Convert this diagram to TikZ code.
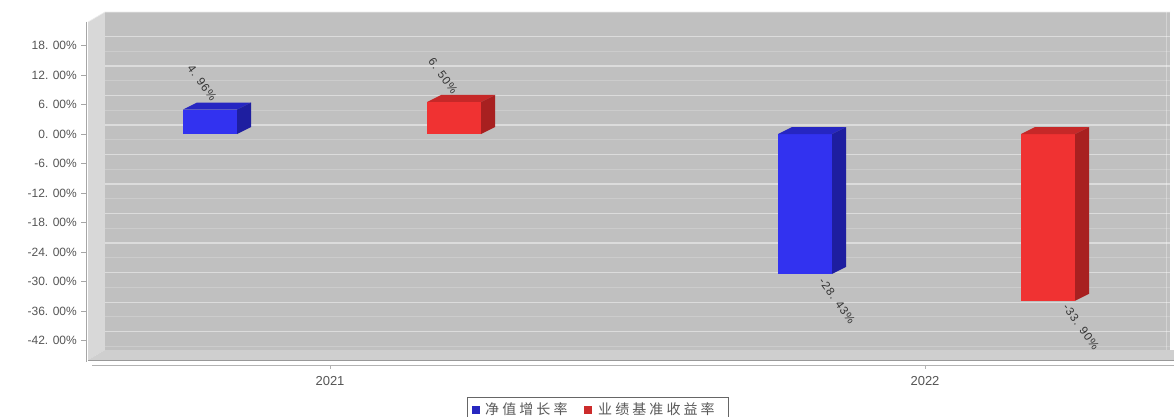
\documentclass[tikz,border=0pt]{standalone}
\usepackage{fontspec}
\setmainfont{Liberation Sans}
\newfontfamily\cjk[LetterSpace=22]{Noto Sans CJK SC}
\newfontfamily\vfont[LetterSpace=8]{Liberation Sans}
\definecolor{wallc}{HTML}{C0C0C0}
\definecolor{wallside}{HTML}{D8D8D8}
\definecolor{floorc}{HTML}{CFCFCF}
\definecolor{axtext}{HTML}{555555}
\definecolor{bfront}{HTML}{3232F0}
\definecolor{btop}{HTML}{2626C2}
\definecolor{bside}{HTML}{1E1EA0}
\definecolor{rfront}{HTML}{F03232}
\definecolor{rtop}{HTML}{C62828}
\definecolor{rside}{HTML}{A82020}
\tikzset{
  ylab/.style={anchor=east,text=axtext,font=\fontsize{12}{14}\selectfont,inner sep=0pt},
  xlab/.style={anchor=center,text=axtext,font=\fontsize{13}{15}\selectfont,inner sep=0pt},
  vlab/.style={text=black!80,font=\vfont\fontsize{11.5}{13}\selectfont,inner sep=0pt,rotate=-54},
  legtext/.style={anchor=west,text=black!65,font=\cjk\fontsize{14}{16}\selectfont,inner sep=0pt},
}
\begin{document}
\begin{tikzpicture}[x=1pt,y=-1pt]
\useasboundingbox (0,0) rectangle (1174,417);
\fill[white] (0,0) rectangle (1174,417);
% walls
\fill[wallside] (88,22) -- (105,12) -- (105,350) -- (88,360) -- cycle;
\fill[wallc] (105,12) rectangle (1170,350);
\draw[white!85!gray,line width=0.6pt] (88,22) -- (105,12) -- (1170,12);
% grid lines on back wall
\foreach \v in {18,12,...,-42} {
  \pgfmathsetmacro\yy{134-\v*4.92-9}
  \draw[white,opacity=0.45,line width=1.2pt] (105,\yy) -- (1170,\yy);
  \pgfmathsetmacro\yz{\yy+14.75}
  \draw[white,opacity=0.2,line width=1pt] (105,\yz) -- (1170,\yz);
}
\draw[white,opacity=0.3,line width=1pt] (1166,12) -- (1166,350);
% floor
\fill[floorc] (88,360) -- (105,350) -- (1174,350) -- (1174,360) -- cycle;
\draw[gray!80,line width=0.8pt] (88,360.5) -- (1174,360.5);
\draw[gray!60,line width=0.8pt] (92,365) -- (1174,365);
% y axis
\draw[gray!70,line width=0.8pt] (86,22) -- (86,362);
\foreach \v/\t in {18/18. 00\%,12/12. 00\%,6/6. 00\%,0/0. 00\%,-6/-6. 00\%,-12/-12. 00\%,-18/-18. 00\%,-24/-24. 00\%,-30/-30. 00\%,-36/-36. 00\%,-42/-42. 00\%} {
  \pgfmathsetmacro\yy{134-\v*4.92}
  \draw[gray!70] (81,\yy) -- (86,\yy);
  \node[ylab] at (77,\yy) {\t};
}
% x ticks and labels
\draw[gray!60] (330,365) -- (330,369);
\draw[gray!60] (925,365) -- (925,369);
\node[xlab] (x2021) at (330,381) {2021};
\node[xlab] (x2022) at (925,381) {2022};
% bars: front, top, side
% blue 2021: 4.96%
\fill[bfront] (183,109.6) rectangle (237,134);
\fill[btop] (183,109.6) -- (197,102.6) -- (251,102.6) -- (237,109.6) -- cycle;
\fill[bside] (237,109.6) -- (251,102.6) -- (251,127) -- (237,134) -- cycle;
% red 2021: 6.50%
\fill[rfront] (427,102) rectangle (481,134);
\fill[rtop] (427,102) -- (441,95) -- (495,95) -- (481,102) -- cycle;
\fill[rside] (481,102) -- (495,95) -- (495,127) -- (481,134) -- cycle;
% blue 2022: -28.43%
\fill[bfront] (778,134) rectangle (832,273.9);
\fill[btop] (778,134) -- (792,127) -- (846,127) -- (832,134) -- cycle;
\fill[bside] (832,134) -- (846,127) -- (846,266.9) -- (832,273.9) -- cycle;
% red 2022: -33.90%
\fill[rfront] (1021,134) rectangle (1075,300.8);
\fill[rtop] (1021,134) -- (1035,127) -- (1089,127) -- (1075,134) -- cycle;
\fill[rside] (1075,134) -- (1089,127) -- (1089,293.8) -- (1075,300.8) -- cycle;
% value labels
\node[vlab] (l1) at (202,83) {4. 96\%};
\node[vlab] (l2) at (443,76) {6. 50\%};
\node[vlab] (l3) at (837,301) {-28. 43\%};
\node[vlab] (l4) at (1081,327) {-33. 90\%};
% legend
\draw[gray!80!black,line width=0.8pt,fill=white] (467,397.5) rectangle (728,420);
\fill[bfront!80!black] (472,406) rectangle (480,414);
\node[legtext] (lg1) at (485,409) {净值增长率};
\fill[rfront!85!black] (584,406) rectangle (592,414);
\node[legtext] (lg2) at (598,409) {业绩基准收益率};
\end{tikzpicture}
\end{document}
